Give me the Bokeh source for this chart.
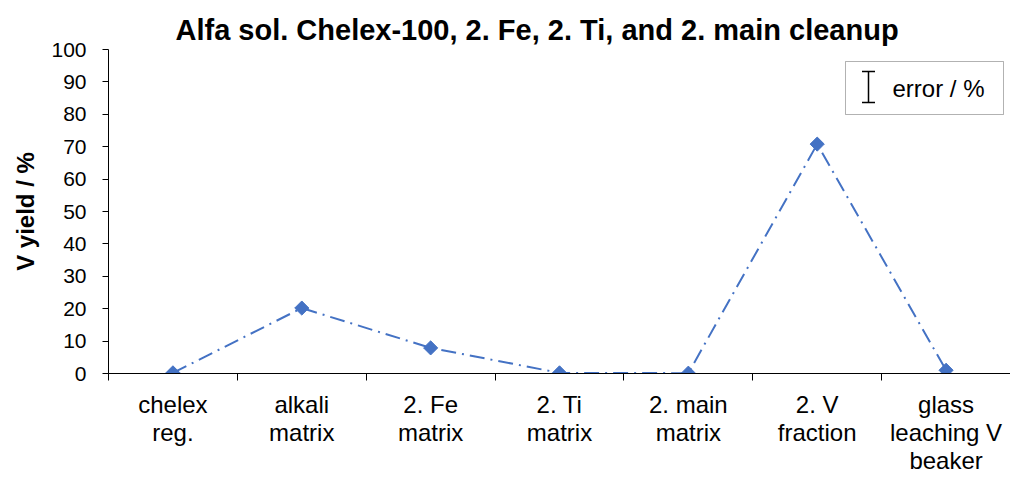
from bokeh.plotting import figure
from bokeh.models import (Range1d, FixedTicker, CustomJSTickFormatter, Title,
                          BoxAnnotation, Whisker, TeeHead, Label, ColumnDataSource)
from bokeh.embed import file_html
from bokeh.resources import INLINE

categories = ["chelex\nreg.", "alkali\nmatrix", "2. Fe\nmatrix", "2. Ti\nmatrix",
              "2. main\nmatrix", "2. V\nfraction", "glass\nleaching V\nbeaker"]
v_yield = [0.2, 20.2, 7.9, 0.2, 0.1, 70.8, 1.0]
y_ticks = [0, 10, 20, 30, 40, 50, 60, 70, 80, 90, 100]
title_text = "Alfa sol. Chelex-100, 2. Fe, 2. Ti, and 2. main cleanup"
y_label = "V yield / %"
legend_label = "error / %"

FONT = "Liberation Sans"
BLUE = "#4472C4"
n = len(categories)
xs = [i + 0.5 for i in range(n)]

p = figure(width=1010, height=477, output_backend="svg", toolbar_location=None,
           x_range=Range1d(0, n), y_range=Range1d(0, 100),
           min_border_left=108, min_border_right=0, min_border_top=49,
           min_border_bottom=103)
p.title = Title(text=title_text, align="left", text_font=FONT,
                text_font_size="29px", text_font_style="bold", text_color="#000000",
                offset=67, standoff=8)
p.outline_line_color = None
p.xgrid.visible = False
p.ygrid.visible = False

# x axis
xa = p.xaxis[0]
xa.ticker = FixedTicker(ticks=xs, minor_ticks=list(range(n + 1)))
xa.formatter = CustomJSTickFormatter(args=dict(labels=categories),
                                     code="return labels[Math.floor(tick)];")
xa.major_tick_out = 0
xa.major_tick_in = 0
xa.minor_tick_out = 7
xa.minor_tick_in = 0
xa.minor_tick_line_color = "#000000"
xa.axis_line_color = "#000000"
xa.major_label_text_font = FONT
xa.major_label_text_font_size = "24px"
xa.major_label_text_color = "#000000"
xa.major_label_text_line_height = 1.05
xa.major_label_standoff = 10

# y axis
ya = p.yaxis[0]
ya.ticker = FixedTicker(ticks=y_ticks)
ya.minor_tick_line_color = None
ya.major_tick_out = 6
ya.major_tick_in = 0
ya.major_tick_line_color = "#000000"
ya.axis_line_color = "#000000"
ya.major_label_text_font = FONT
ya.major_label_text_font_size = "21px"
ya.major_label_text_color = "#000000"
ya.major_label_standoff = 16
ya.axis_label = y_label
ya.axis_label_text_font = FONT
ya.axis_label_text_font_size = "24px"
ya.axis_label_text_font_style = "bold"
ya.axis_label_text_color = "#000000"
ya.axis_label_standoff = 9

# data
p.line(xs, v_yield, line_color=BLUE, line_width=2, line_dash="15 6 2 6")
p.scatter(xs, v_yield, marker="square", angle=0.785398, size=10,
          fill_color=BLUE, line_color=BLUE)

# legend (manual)
p.add_layout(BoxAnnotation(left=737, right=895, top=312, bottom=259,
                           left_units="screen", right_units="screen",
                           top_units="screen", bottom_units="screen",
                           fill_color=None, line_color="#000000", line_width=1))
wsrc = ColumnDataSource(dict(base=[760], upper=[302], lower=[271]))
p.add_layout(Whisker(source=wsrc, base="base", upper="upper", lower="lower",
                     dimension="height", base_units="screen",
                     upper_units="screen", lower_units="screen",
                     line_color="#000000", line_width=1.5,
                     upper_head=TeeHead(size=13, line_color="#000000", line_width=1.5),
                     lower_head=TeeHead(size=13, line_color="#000000", line_width=1.5)))
p.add_layout(Label(x=784, y=285, x_units="screen", y_units="screen",
                   text=legend_label, text_font=FONT, text_font_size="24px",
                   text_color="#000000", text_baseline="middle"))

open("out.html", "w").write(file_html(p, INLINE))
